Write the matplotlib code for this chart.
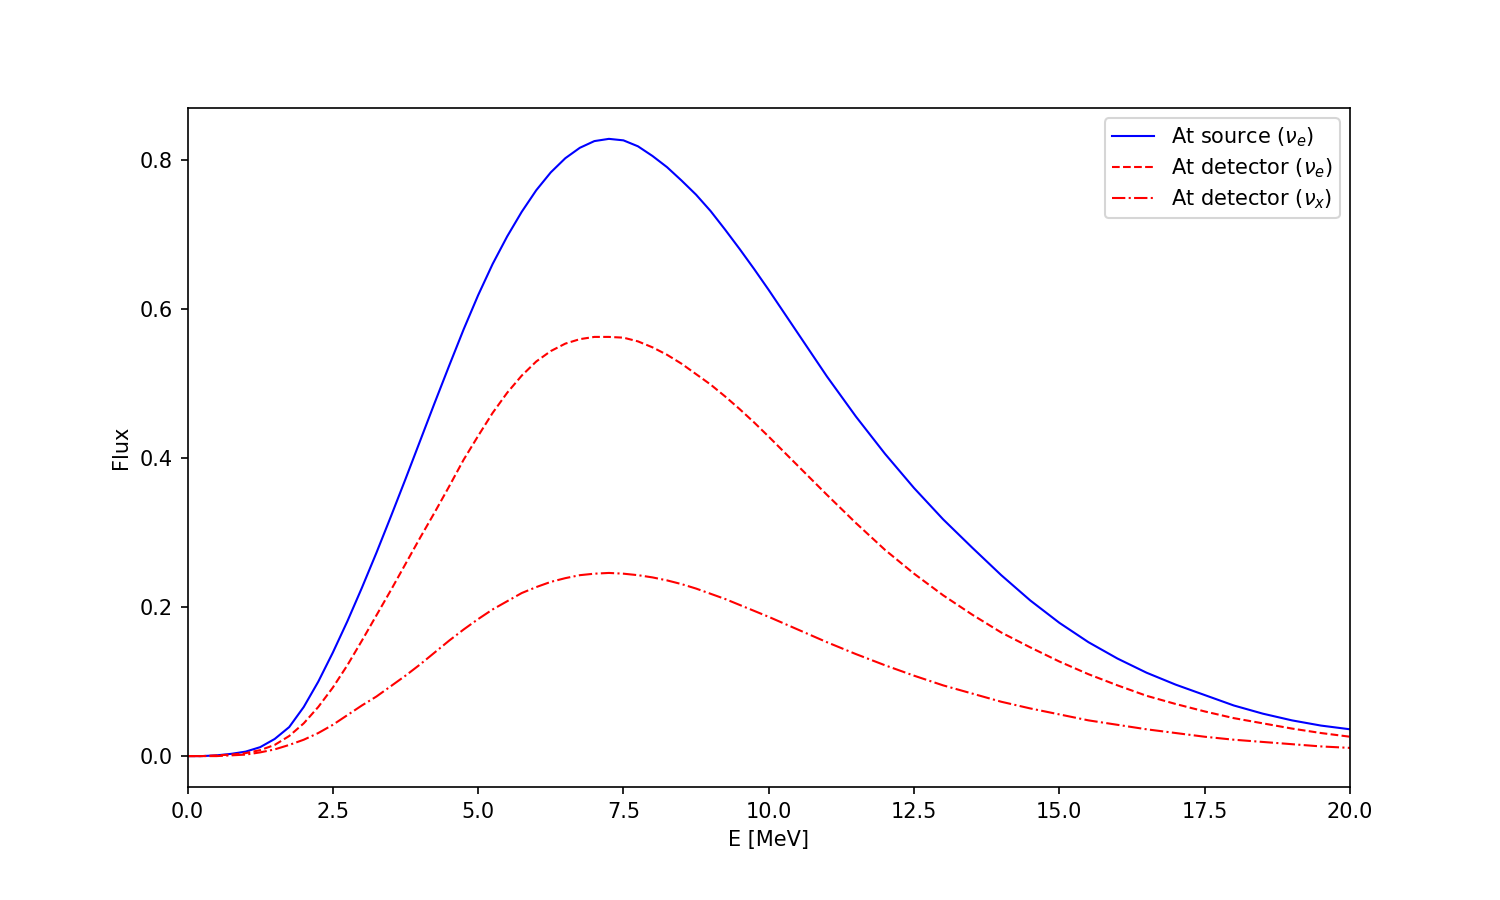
import matplotlib
matplotlib.use("Agg")
import matplotlib.pyplot as plt

# energy grid [MeV] and fluxes
energy = [0.0, 0.25, 0.5, 0.75, 1.0, 1.25, 1.5, 1.75, 2.0, 2.25,
          2.5, 2.75, 3.0, 3.25, 3.5, 3.75, 4.0, 4.25, 4.5, 4.75,
          5.0, 5.25, 5.5, 5.75, 6.0, 6.25, 6.5, 6.75, 7.0, 7.25,
          7.5, 7.75, 8.0, 8.25, 8.5, 8.75, 9.0, 9.25, 9.5, 9.75,
          10.0, 10.5, 11.0, 11.5, 12.0, 12.5, 13.0, 13.5, 14.0, 14.5,
          15.0, 15.5, 16.0, 16.5, 17.0, 17.5, 18.0, 18.5, 19.0, 19.5, 20.0]

flux_source_e = [0.000, 0.000, 0.001, 0.003, 0.006, 0.012, 0.023, 0.039, 0.066, 0.100,
                 0.139, 0.181, 0.226, 0.273, 0.322, 0.372, 0.423, 0.474, 0.524, 0.573,
                 0.619, 0.661, 0.698, 0.731, 0.760, 0.784, 0.803, 0.817, 0.826, 0.829,
                 0.827, 0.819, 0.806, 0.791, 0.773, 0.754, 0.732, 0.707, 0.681, 0.654,
                 0.626, 0.568, 0.510, 0.456, 0.406, 0.360, 0.318, 0.280, 0.243, 0.209,
                 0.179, 0.153, 0.131, 0.112, 0.096, 0.082, 0.068, 0.057, 0.048, 0.041, 0.036]

flux_det_e = [0.000, 0.000, 0.001, 0.002, 0.004, 0.008, 0.015, 0.027, 0.044, 0.066,
              0.092, 0.122, 0.155, 0.189, 0.223, 0.258, 0.293, 0.327, 0.362, 0.398,
              0.430, 0.461, 0.488, 0.511, 0.530, 0.544, 0.554, 0.560, 0.563, 0.563,
              0.562, 0.557, 0.549, 0.539, 0.527, 0.513, 0.499, 0.483, 0.466, 0.448,
              0.429, 0.390, 0.351, 0.313, 0.277, 0.245, 0.216, 0.190, 0.166, 0.146,
              0.127, 0.110, 0.095, 0.081, 0.070, 0.060, 0.051, 0.044, 0.037, 0.031, 0.026]

flux_det_x = [0.000, 0.000, 0.000, 0.001, 0.002, 0.005, 0.009, 0.015, 0.022, 0.031,
              0.042, 0.055, 0.068, 0.080, 0.094, 0.108, 0.123, 0.139, 0.155, 0.170,
              0.184, 0.197, 0.208, 0.219, 0.227, 0.234, 0.239, 0.243, 0.245, 0.246,
              0.245, 0.243, 0.240, 0.236, 0.231, 0.225, 0.218, 0.211, 0.203, 0.195,
              0.187, 0.170, 0.153, 0.137, 0.122, 0.108, 0.095, 0.084, 0.073, 0.064,
              0.056, 0.048, 0.042, 0.036, 0.031, 0.026, 0.022, 0.019, 0.016, 0.013, 0.011]

fig, ax = plt.subplots(figsize=(10, 6), dpi=150)
fig.subplots_adjust(left=0.125, right=0.9, top=0.88, bottom=0.1256)

ax.plot(energy, flux_source_e, 'b-', lw=1.0, label=r'At source ($\nu_e$)')
ax.plot(energy, flux_det_e, 'r--', lw=1.0, label=r'At detector ($\nu_e$)')
ax.plot(energy, flux_det_x, 'r-.', lw=1.0, label=r'At detector ($\nu_x$)')

ax.set_xlim(0, 20)
ax.set_xlabel('E [MeV]')
ax.set_ylabel('Flux')
ax.legend(loc='upper right', labelspacing=0.35, borderpad=0.35)

fig.savefig('out.png', dpi=150)
